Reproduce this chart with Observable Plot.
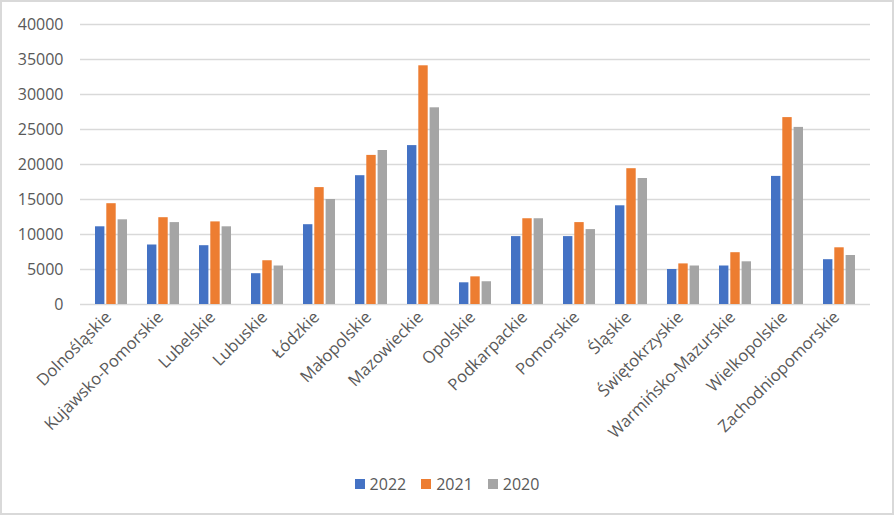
<!DOCTYPE html>
<html>
<head>
<meta charset="utf-8">
<script src="https://cdn.jsdelivr.net/npm/d3@7"></script>
<script src="https://cdn.jsdelivr.net/npm/@observablehq/plot@0.6"></script>
<style>
  body { margin: 0; background: #fff; font-family: "Open Sans", sans-serif; }
  #wrap { position: relative; width: 894px; height: 515px; overflow: hidden; background: #fff; }
  #border { position: absolute; left: 0; top: 0; width: 894px; height: 515px; box-sizing: border-box; border: 2px solid #d9d9d9; pointer-events: none; }
  #chart { position: absolute; left: 0; top: 0; }
  #legend { position: absolute; left: 0; top: 473px; width: 894px; display: flex; justify-content: center; gap: 15px; font-size: 16px; color: #595959; line-height: 22px; }
  .item { display: flex; align-items: center; gap: 5px; }
  .sw { width: 10px; height: 10px; display: inline-block; }
</style>
</head>
<body>
<div id="wrap">
  <div id="chart"></div>
  <div id="legend"></div>
  <div id="border"></div>
</div>
<script>
const regions = ["Dolnośląskie", "Kujawsko-Pomorskie", "Lubelskie", "Lubuskie", "Łódzkie", "Małopolskie", "Mazowieckie", "Opolskie", "Podkarpackie", "Pomorskie", "Śląskie", "Świętokrzyskie", "Warmińsko-Mazurskie", "Wielkopolskie", "Zachodniopomorskie"];
const years = ["2022", "2021", "2020"];
const v2022 = [11100, 8500, 8400, 4400, 11400, 18400, 22700, 3100, 9700, 9700, 14100, 5000, 5500, 18300, 6400];
const v2021 = [14400, 12400, 11800, 6250, 16700, 21300, 34100, 3950, 12250, 11700, 19400, 5800, 7400, 26700, 8100];
const v2020 = [12100, 11700, 11100, 5500, 15000, 22000, 28100, 3250, 12250, 10700, 18000, 5500, 6100, 25300, 7000];
const yTicks = [0, 5000, 10000, 15000, 20000, 25000, 30000, 35000, 40000];
const colors = ["#4472C4", "#ED7D31", "#A5A5A5"];

const series = [v2022, v2021, v2020];
const data = [];
regions.forEach((r, i) => {
  years.forEach((y, j) => data.push({region: r, year: y, value: series[j][i]}));
});

// bar slots inside each category band (left, middle, right)
const insets = [[0, 22.6], [11.3, 11.3], [22.6, 0]];

const chart = Plot.plot({
  width: 894,
  height: 460,
  marginTop: 24,
  marginBottom: 156,
  marginLeft: 80,
  marginRight: 24,
  style: {fontFamily: "'Open Sans', sans-serif", fontSize: "16px", color: "#595959", background: "transparent"},
  x: {domain: regions, paddingInner: 0.39, paddingOuter: 0.195, label: null, axis: null},
  y: {domain: [0, 40000], axis: null},
  color: {domain: years, range: colors},
  marks: [
    Plot.ruleY(yTicks, {stroke: "#d9d9d9", strokeWidth: 1.3}),
    Plot.axisY(yTicks, {tickSize: 0, tickPadding: 17, tickFormat: d => String(d), fontSize: 16, fill: "#595959", label: null}),
    ...years.map((yr, j) => Plot.barY(data.filter(d => d.year === yr), {
      x: "region", y: "value", fill: "year",
      insetLeft: insets[j][0], insetRight: insets[j][1]
    })),
    Plot.axisX({tickRotate: -45, tickSize: 0, tickPadding: 10, dx: -3, fontSize: 16.5, fill: "#595959", label: null})
  ]
});
document.getElementById("chart").appendChild(chart);

const legend = document.getElementById("legend");
years.forEach((y, j) => {
  const it = document.createElement("div");
  it.className = "item";
  const sw = document.createElement("span");
  sw.className = "sw";
  sw.style.background = colors[j];
  const t = document.createElement("span");
  t.textContent = y;
  it.appendChild(sw);
  it.appendChild(t);
  legend.appendChild(it);
});
</script>
</body>
</html>
